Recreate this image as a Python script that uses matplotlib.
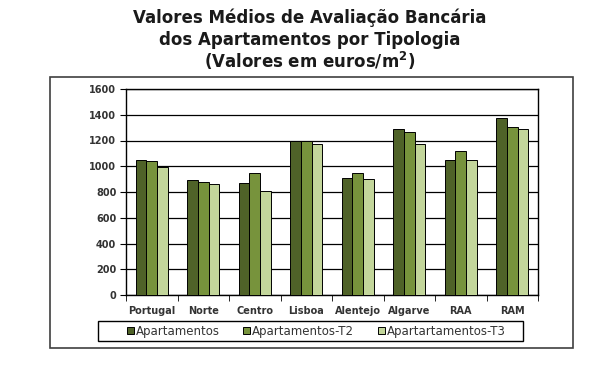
import matplotlib
matplotlib.use("Agg")
import matplotlib.pyplot as plt
import numpy as np
from matplotlib.patches import Rectangle

regioes = ["Portugal", "Norte", "Centro", "Lisboa", "Alentejo", "Algarve", "RAA", "RAM"]
series_nomes = ["Apartamentos", "Apartamentos-T2", "Apartartamentos-T3"]
apartamentos = [1050, 890, 870, 1200, 910, 1287, 1050, 1372]
apart_t2 = [1040, 880, 945, 1200, 945, 1265, 1115, 1307]
apart_t3 = [995, 860, 805, 1170, 903, 1170, 1050, 1287]
cores = ["#4f6228", "#77933c", "#c3d69b"]
y_ticks = [0, 200, 400, 600, 800, 1000, 1200, 1400, 1600]
titulo = ["Valores Médios de Avaliação Bancária",
          "dos Apartamentos por Tipologia",
          "(Valores em euros/m$^\\mathbf{2}$)"]

fig = plt.figure(figsize=(6.1, 3.65), dpi=100)
W, H = 610, 365

# outer chart border
fig.patches.append(Rectangle((50 / W, 1 - 348 / H), (573 - 50) / W, (348 - 77) / H,
                             transform=fig.transFigure, fill=False,
                             edgecolor="#404040", linewidth=1.2))
# legend frame
fig.patches.append(Rectangle((98 / W, 1 - 341 / H), (523 - 98) / W, (341 - 321) / H,
                             transform=fig.transFigure, fill=False,
                             edgecolor="black", linewidth=1.0))

ax = fig.add_axes([126 / W, 1 - 295 / H, (538 - 126) / W, (295 - 89) / H])

x = np.arange(len(regioes))
w = 0.21
for i, vals in enumerate([apartamentos, apart_t2, apart_t3]):
    ax.bar(x + (i - 1) * w, vals, w, color=cores[i], edgecolor="black",
           linewidth=0.7, label=series_nomes[i], zorder=3)

ax.set_xlim(-0.5, len(regioes) - 0.5)
ax.set_ylim(0, 1600)
ax.set_yticks(y_ticks)
ax.yaxis.grid(True, color="black", linewidth=0.9, zorder=0)
ax.set_axisbelow(True)
ax.set_xticks(x)
ax.set_xticklabels(regioes)
ax.set_xticks(np.arange(-0.5, len(regioes), 1), minor=True)
ax.tick_params(axis="x", which="major", length=0, pad=8)
ax.tick_params(axis="x", which="minor", length=4, direction="out", color="black")
ax.tick_params(axis="y", length=4, direction="out", pad=3)
ax.tick_params(labelsize=7, labelcolor="#333333")
for lab in ax.get_xticklabels() + ax.get_yticklabels():
    lab.set_fontweight("bold")
for s in ax.spines.values():
    s.set_linewidth(1.0)
    s.set_color("black")

for txt, yy in zip(titulo, [18, 40, 61]):
    fig.text(0.508, 1 - yy / H, txt, ha="center", va="center", fontsize=12,
             fontweight="bold", color="#1a1a1a")

leg = fig.legend(loc="center", bbox_to_anchor=(316 / W, 1 - 331 / H), ncol=3,
                 fontsize=8.5, frameon=False, handlelength=0.6, handleheight=0.6,
                 handletextpad=0.15, columnspacing=2.0, borderpad=0.2)
for t in leg.get_texts():
    t.set_color("#333333")

fig.savefig("out.png", dpi=100, facecolor="white")
